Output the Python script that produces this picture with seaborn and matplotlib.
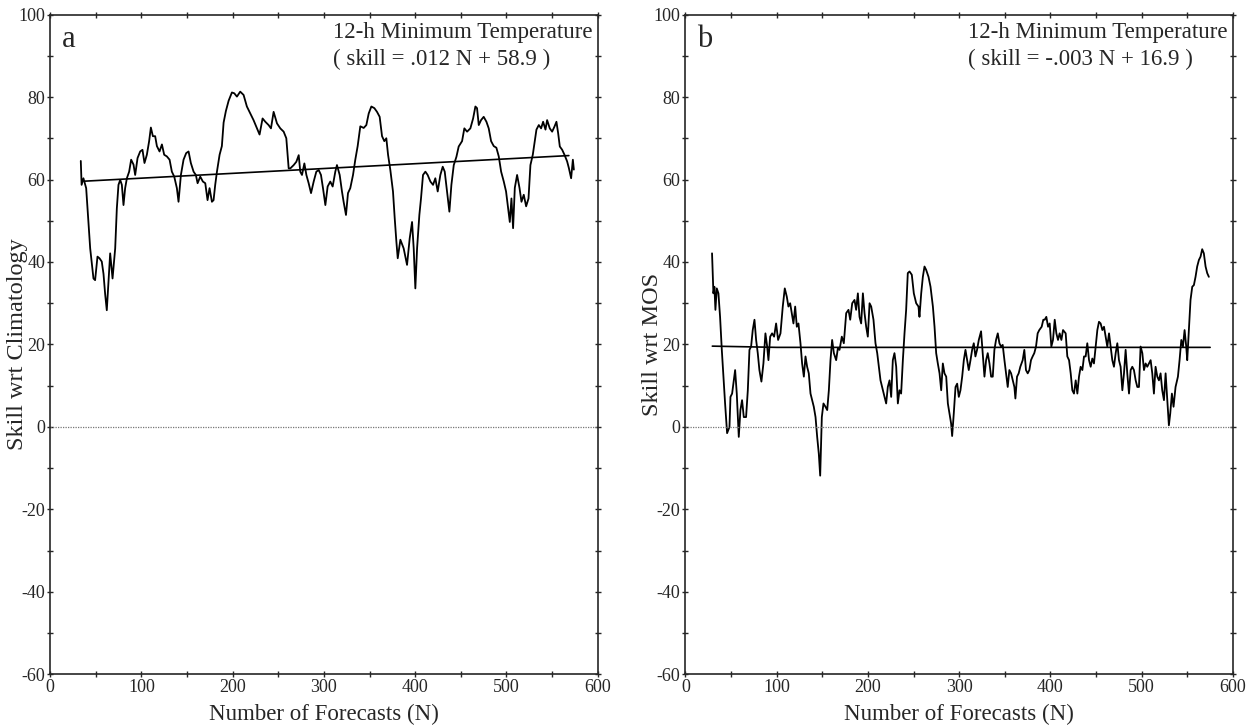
import numpy as np
import pandas as pd
import matplotlib
matplotlib.use("Agg")
import matplotlib.pyplot as plt
import seaborn as sns
from matplotlib.ticker import MultipleLocator

# panel a: running skill wrt climatology
n_a = [33.6, 34.5, 36.5, 39.5, 43.9, 47.5, 49.3, 51.9, 54.1, 56.6, 58.5, 60.3, 62.1, 63.9, 65.8,
       68.4, 71.3, 73.1, 74.9, 76.8, 78.6, 80.4, 82.2, 84.1, 86.6, 88.8, 91.4, 93.2, 95.8, 98.7,
       101.2, 103.4, 106.0, 108.5, 110.4, 112.6, 115.1, 117.0, 119.9, 122.5, 125.0, 127.9, 130.9,
       133.4, 136.0, 138.9, 140.7, 143.3, 146.2, 149.1, 151.7, 154.2, 157.2, 159.7, 161.6, 164.5,
       167.4, 170.0, 172.5, 174.7, 177.3, 179.1, 180.9, 182.8, 185.7, 188.2, 190.1, 192.6, 195.6,
       199.2, 201.8, 204.7, 208.3, 212.0, 215.6, 219.3, 222.9, 226.6, 229.5, 232.8, 235.8, 239.4,
       242.0, 244.9, 248.6, 252.2, 255.9, 258.8, 261.4, 263.2, 266.9, 269.8, 272.4, 274.1, 276.0,
       278.6, 280.8, 283.3, 285.9, 288.8, 291.7, 294.3, 296.8, 299.0, 301.6, 304.1, 307.0, 309.6,
       312.5, 314.3, 317.3, 319.8, 321.6, 324.2, 326.4, 328.9, 331.9, 334.4, 337.0, 339.9, 343.6,
       346.5, 349.1, 352.0, 355.3, 358.2, 361.1, 363.7, 366.2, 368.4, 370.3, 372.8, 375.7, 377.6,
       379.4, 380.9, 383.8, 387.4, 391.1, 394.0, 396.6, 398.4, 400.2, 402.1, 404.6, 406.4, 408.6,
       411.2, 413.7, 416.7, 419.6, 422.1, 424.7, 427.6, 430.2, 432.4, 434.9, 437.5, 439.7, 442.3,
       445.2, 447.7, 451.4, 453.9, 456.9, 460.5, 463.5, 466.0, 467.8, 469.7, 472.2, 475.1, 478.1,
       480.6, 483.2, 486.1, 489.0, 491.6, 494.2, 497.1, 499.6, 501.8, 503.7, 505.5, 507.3, 509.2,
       511.7, 514.3, 516.5, 519.0, 521.6, 524.2, 526.3, 528.9, 531.1, 532.9, 535.5, 538.0, 540.2,
       542.8, 544.6, 547.5, 550.1, 552.6, 554.8, 556.7, 558.5, 561.1, 563.6, 566.5, 568.4, 570.9,
       572.8, 573.9]
skill_a = [64.5, 58.7, 60.3, 57.9, 43.3, 36.0, 35.6, 41.3, 40.9, 40.1, 37.1, 32.2, 28.3, 35.2, 42.1,
           36.0, 43.3, 53.0, 58.7, 59.9, 58.7, 53.8, 57.9, 60.3, 61.9, 64.8, 63.6, 61.1, 65.2, 66.8,
           67.2, 64.0, 66.0, 69.3, 72.6, 70.5, 70.5, 68.1, 66.8, 68.5, 66.0, 65.6, 64.8,
           61.9, 60.7, 57.9, 54.6, 61.1, 64.8, 66.4, 66.8, 64.0, 61.9, 61.1, 59.1, 60.7,
           59.5, 59.1, 55.0, 57.9, 54.6, 55.0, 58.7, 61.9, 66.0, 68.1, 73.8, 76.6, 79.1,
           81.1, 80.9, 80.1, 81.3, 80.5, 77.7, 76.0, 74.4, 72.4, 70.9, 74.8, 74.0, 73.2,
           72.4, 76.4, 73.6, 72.4, 71.6, 70.0, 62.7, 62.7, 63.5, 64.3, 65.9, 61.9, 61.1,
           63.9, 61.1, 59.1, 56.7, 59.5, 61.9, 62.3, 61.1, 57.9, 53.8, 58.3, 59.5, 58.3,
           61.9, 63.5, 61.1, 57.1, 54.6, 51.4, 56.7, 57.9, 61.1, 64.8, 68.1, 72.9, 72.5,
           73.2, 76.0, 77.7, 77.3, 76.4, 75.2, 70.5, 69.3, 70.0, 66.0, 62.3, 57.1, 50.6,
           45.0, 40.9, 45.4, 43.3, 39.3, 45.7, 49.7, 43.3, 33.6, 43.3, 51.4, 55.4, 61.1,
           61.9, 61.1, 59.5, 58.7, 60.3, 57.1, 61.1, 63.1, 61.9, 57.1, 52.2, 58.7, 63.5,
           65.5, 68.0, 69.3, 72.4, 71.6, 72.4, 74.8, 77.7, 77.3, 73.2, 74.4, 75.2, 74.0,
           72.4, 69.3, 68.1, 67.7, 65.6, 61.9, 59.5, 57.1, 53.1, 49.7, 55.4, 48.2, 58.0,
           61.1, 58.0, 54.6, 56.3, 53.5, 55.4, 63.5, 66.0, 69.3, 72.1, 73.2, 72.4, 74.0,
           72.1, 74.4, 72.4, 71.6, 72.8, 74.0, 71.2, 68.0, 67.2, 66.0, 64.4, 62.8, 60.3,
           64.8, 62.4]
fit_a_n = [38.1, 568.4]
fit_a_v = [59.6, 65.8]

# panel b: running skill wrt MOS
n_b = [29.2, 30.7, 31.8, 32.9, 34.4, 36.2, 38.0, 39.9, 41.7, 43.5, 45.7, 48.3, 49.4, 51.2, 53.0,
       54.5, 56.3, 58.5, 60.3, 62.1, 64.0, 66.5, 68.4, 70.2, 72.0, 73.8, 75.7, 77.5, 79.3, 81.1,
       83.3, 85.5, 87.7, 89.6, 91.0, 92.9, 95.0, 97.2, 99.4, 101.6, 104.2, 106.7, 108.9, 111.1,
       112.9, 114.8, 116.6, 118.4, 120.3, 122.1, 123.9, 126.1, 127.9, 129.8, 131.6, 133.4, 135.2,
       137.1, 138.9, 140.7, 142.6, 144.4, 146.2, 147.7, 149.5, 151.3, 153.5, 155.4, 157.2, 159.0,
       160.8, 162.7, 165.2, 167.1, 168.9, 171.4, 173.6, 176.2, 178.7, 180.6, 182.8, 185.3, 187.1,
       189.0, 190.8, 192.6, 194.5, 196.3, 198.1, 199.9, 201.8, 203.6, 206.1, 208.3, 210.2, 212.0,
       213.8, 216.4, 218.2, 220.0, 221.8, 223.7, 225.5, 227.3, 229.1, 231.0, 232.8, 234.6, 236.4,
       238.3, 240.1, 241.9, 243.7, 245.6, 248.1, 250.3, 252.9, 255.4, 256.5, 258.4, 260.2, 262.0,
       263.8, 266.4, 268.6, 271.2, 273.0, 274.8, 276.6, 278.5, 280.3, 282.1, 283.9, 285.8, 287.6,
       289.4, 291.2, 292.3, 294.1, 296.0, 297.8, 299.6, 301.4, 303.3, 305.1, 306.9, 308.7, 310.5,
       312.4, 314.2, 316.0, 317.8, 319.6, 321.5, 324.0, 325.8, 327.7, 329.5, 331.3, 333.2, 335.0,
       336.8, 338.6, 340.4, 342.3, 344.1, 345.9, 347.7, 349.6, 351.4, 353.2, 355.0, 356.9, 358.7,
       360.5, 361.6, 363.4, 365.2, 367.0, 369.6, 371.4, 373.2, 375.1, 376.9, 378.7, 380.5, 382.3,
       384.2, 386.0, 387.8, 390.4, 392.2, 393.7, 395.5, 397.4, 399.2, 401.0, 402.8, 404.7, 406.5,
       408.3, 410.1, 412.0, 413.8, 416.7, 418.5, 420.4, 422.2, 424.0, 425.8, 427.7, 429.5, 431.3,
       433.1, 435.0, 436.8, 438.6, 440.4, 442.3, 444.1, 445.9, 447.7, 449.6, 451.4, 453.2, 455.0,
       456.9, 458.7, 460.5, 462.3, 464.2, 466.0, 467.8, 469.6, 471.5, 473.3, 475.1, 476.9, 478.8,
       480.6, 482.4, 484.2, 486.1, 487.9, 489.7, 491.5, 493.4, 495.2, 497.0, 498.8, 500.7, 502.5,
       504.3, 506.1, 507.9, 509.8, 511.6, 513.4, 515.2, 517.1, 518.9, 520.7, 522.5, 524.4, 526.2,
       528.0, 529.8, 531.3, 533.1, 534.9, 537.1, 539.7, 541.5, 543.4, 545.2, 547.0, 548.8, 549.9,
       551.7, 553.5, 555.4, 557.2, 559.0, 560.8, 562.7, 564.5, 566.3, 568.1, 570.0, 571.8, 573.6]
skill_b = [42.1, 32.4, 34.0, 28.4, 33.6, 32.4, 26.7, 18.7, 12.2, 5.7, -1.5, 0.0, 7.3, 8.1, 11.3,
           13.8, 8.1, -2.4, 4.1, 6.5, 2.4, 2.4, 8.9, 18.7, 19.5, 23.5, 26.0, 21.1, 17.9, 13.8,
           11.0, 15.4, 22.7, 19.5, 16.2, 21.9, 22.7, 21.9, 25.1, 21.1, 22.7, 29.2, 33.6, 31.6,
           29.2, 30.0, 27.6, 25.1, 29.2, 24.3, 25.1, 20.3, 15.4, 12.2, 17.1, 14.6, 13.0,
           8.1, 6.5, 4.9, 2.4, -2.4, -6.5, -11.8, 2.4, 5.7, 4.9, 4.1, 8.9, 16.2,
           21.1, 17.9, 16.2, 19.1, 18.7, 21.9, 20.3, 27.6, 28.4, 26.0, 30.0, 30.8, 28.4,
           32.4, 26.7, 25.1, 32.4, 27.6, 24.3, 21.9, 30.0, 29.2, 26.0, 20.3, 17.9, 14.6,
           11.3, 8.9, 7.3, 5.7, 9.7, 11.3, 7.3, 16.2, 17.9, 14.6, 5.7, 8.9, 8.1,
           16.2, 22.7, 28.4, 37.3, 37.7, 36.9, 32.4, 30.0, 29.2, 26.7, 32.4, 36.4, 38.9,
           38.1, 36.4, 34.0, 29.2, 24.3, 17.9, 15.4, 13.0, 8.9, 15.4, 13.0, 12.2, 5.7,
           3.3, 0.8, -2.2, 3.3, 9.7, 10.5, 7.3, 8.9, 12.2, 16.2, 18.7, 16.2, 13.8,
           16.2, 18.7, 20.3, 17.1, 18.7, 21.1, 23.2, 17.9, 12.2, 16.2, 17.9, 15.4, 12.2,
           12.2, 18.7, 21.1, 22.7, 20.3, 19.5, 19.9, 16.2, 13.0, 9.7, 13.8, 13.0, 11.3,
           9.7, 6.9, 12.2, 13.0, 14.6, 16.2, 18.7, 13.8, 13.0, 13.8, 16.2, 17.1, 17.9,
           19.5, 22.7, 23.5, 24.3, 26.0, 26.0, 26.7, 24.3, 25.1, 19.5, 21.1, 26.0, 22.7,
           21.1, 22.7, 21.1, 23.5, 22.7, 17.1, 16.2, 13.0, 8.9, 8.1, 11.3, 8.1, 12.2,
           14.6, 13.8, 17.1, 17.1, 20.3, 16.2, 14.6, 16.6, 15.4, 19.5, 23.5, 25.5, 25.1,
           23.5, 24.3, 21.9, 19.5, 22.7, 19.5, 16.2, 14.6, 17.9, 20.3, 16.2, 14.6, 8.9,
           13.0, 18.7, 13.0, 8.1, 13.8, 14.6, 13.8, 11.3, 9.7, 9.7, 19.5, 17.9, 13.8,
           15.4, 14.6, 15.4, 16.2, 13.0, 8.1, 14.6, 12.2, 11.3, 13.0, 8.9, 6.5, 13.0,
           6.5, 0.4, 3.3, 8.1, 4.9, 9.7, 12.2, 16.2, 21.1, 19.5, 23.5, 19.5, 16.2,
           23.5, 30.8, 34.0, 34.4, 36.4, 38.9, 40.5, 41.3, 43.1, 42.1, 38.9, 37.3, 36.4]
fit_b_n = [29.5, 100.0, 575.0]
fit_b_v = [19.6, 19.3, 19.3]

panels = [
    ("a", n_a, skill_a, fit_a_n, fit_a_v, "Skill wrt Climatology", "( skill = .012 N + 58.9 )"),
    ("b", n_b, skill_b, fit_b_n, fit_b_v, "Skill wrt MOS", "( skill = -.003 N + 16.9 )"),
]

sns.set_style("ticks")
plt.rcParams['font.family'] = ['Liberation Serif', 'DejaVu Serif']
plt.rcParams['axes.unicode_minus'] = False

fig = plt.figure(figsize=(12.53, 7.26), dpi=100)
axes = [fig.add_axes([0.040, 0.071, 0.437, 0.909]),
        fig.add_axes([0.547, 0.071, 0.437, 0.909])]

for ax, (letter, n, skill, fn, fv, ylab, eq) in zip(axes, panels):
    df = pd.DataFrame({"N": n, "skill": skill})
    sns.lineplot(data=df, x="N", y="skill", ax=ax, color="black", lw=1.3, sort=False)
    fit = pd.DataFrame({"N": fn, "skill": fv})
    sns.lineplot(data=fit, x="N", y="skill", ax=ax, color="black", lw=1.2)
    ax.axhline(0, color="#777777", lw=0.9, ls=(0, (1, 1)))

    ax.set_xlim(0, 600)
    ax.set_ylim(-60, 100)
    ax.xaxis.set_major_locator(MultipleLocator(100))
    ax.xaxis.set_minor_locator(MultipleLocator(50))
    ax.yaxis.set_major_locator(MultipleLocator(20))
    ax.yaxis.set_minor_locator(MultipleLocator(10))
    ax.tick_params(which="both", direction="inout", top=True, right=True,
                   labelsize=13, pad=1, width=1)
    ax.tick_params(which="major", length=5)
    ax.tick_params(which="minor", length=4)
    for s in ax.spines.values():
        s.set_linewidth(1.2)

    ax.set_xlabel("Number of Forecasts (N)", fontsize=16.5, labelpad=0)
    ax.set_ylabel(ylab, fontsize=17.5)
    ax.xaxis.set_label_coords(0.5, -0.045)
    ax.yaxis.set_label_coords(-0.040, 0.5)

    ax.text(0.022, 0.962, letter, transform=ax.transAxes, fontsize=22, va="center", ha="left")
    ax.text(0.517, 0.973, "12-h Minimum Temperature", transform=ax.transAxes,
            fontsize=16.5, va="center", ha="left")
    ax.text(0.517, 0.932, eq, transform=ax.transAxes, fontsize=16.5, va="center", ha="left")

fig.savefig("out.png", dpi=100)
